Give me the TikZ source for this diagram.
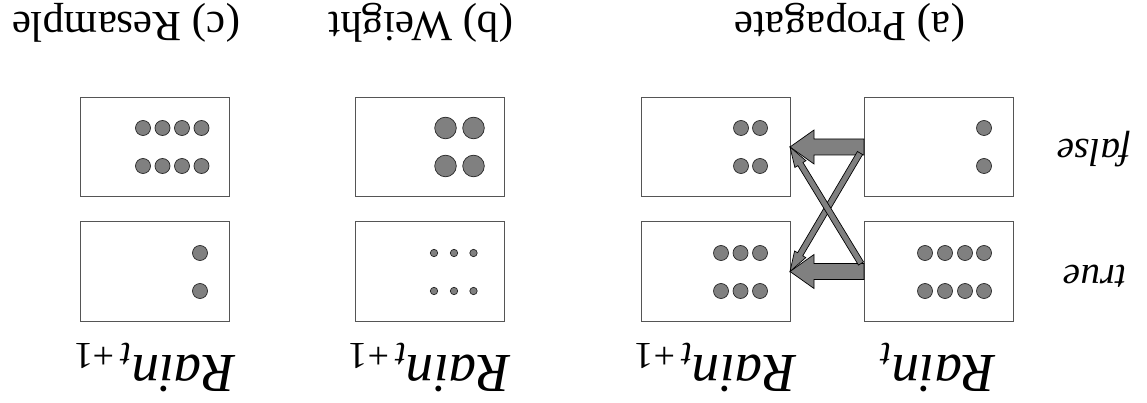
\documentclass[tikz,border=0pt]{standalone}
\usepackage{fontspec}
\setmainfont{Liberation Serif}
\usetikzlibrary{calc}

\definecolor{boxline}{RGB}{85,85,85}
\definecolor{dotfill}{RGB}{128,128,128}
\definecolor{dotline}{RGB}{40,40,40}

% outlined block arrow from #1 to #2: shaft half-width #3, head length #4, head half-width #5
\newcommand{\blockarrow}[5]{%
  \coordinate (hb) at ($(#2)!#4!(#1)$);
  \draw[arrowfill]
    ($(#1)!#3!90:(#2)$) -- ($(hb)!#3!90:(#2)$) -- ($(hb)!#5!90:(#2)$) --
    (#2) --
    ($(hb)!#5!-90:(#2)$) -- ($(hb)!#3!-90:(#2)$) -- ($(#1)!#3!-90:(#2)$) -- cycle;
}

\begin{document}
\begin{tikzpicture}[x=1pt,y=-1pt,
  panel/.style={draw=boxline, line width=1pt, minimum width=149pt, minimum height=99pt,
                inner sep=0pt, outer sep=0pt, fill=white},
  particle/.style={draw=dotline, line width=0.7pt, fill=dotfill},
  arrowfill/.style={draw=black, line width=0.7pt, fill=dotfill, line join=miter},
  heading/.style={rotate=180, anchor=base, inner sep=0pt, font=\fontsize{43}{46}\selectfont},
  varname/.style={rotate=180, anchor=base, inner sep=0pt, font=\fontsize{55}{60}\selectfont\itshape},
  state/.style={rotate=180, anchor=base, inner sep=0pt, font=\fontsize{39}{42}\selectfont\itshape}]

\useasboundingbox (0,0) rectangle (1147,403);

% panel titles
\node[heading] (ta) at (850,13) {(a) Propagate};
\node[heading] (tb) at (421,13) {(b) Weight};
\node[heading] (tc) at (126,13) {(c) Resample};

% state labels
\node[state] (sf) at (1094,140) {false};
\node[state] (st) at (1095,265) {true};

% state boxes
\node[panel] (rt) at (938.5,147) {};
\node[panel] (rb) at (938.5,271.5) {};
\node[panel] (lt) at (715.5,147) {};
\node[panel] (lb) at (715.5,271.5) {};
\node[panel] (wt) at (429.5,147) {};
\node[panel] (wb) at (429.5,271.5) {};
\node[panel] (qt) at (155,147) {};
\node[panel] (qb) at (155,271.5) {};

% variable names
\node[varname] (v1) at (938.5,355) {Rain\raisebox{-12pt}{\fontsize{38}{40}\selectfont\itshape t}};
\node[varname] (v2) at (715.5,355) {Rain\raisebox{-12pt}{\fontsize{38}{40}\selectfont\itshape t\upshape\,+1}};
\node[varname] (v3) at (429.5,355) {Rain\raisebox{-12pt}{\fontsize{38}{40}\selectfont\itshape t\upshape\,+1}};
\node[varname] (v4) at (155,355) {Rain\raisebox{-12pt}{\fontsize{38}{40}\selectfont\itshape t\upshape\,+1}};

% particles, propagate step
\foreach \y in {128,166} \draw[particle] (984,\y) circle[radius=7.5pt];
\foreach \x in {925,945,965,984} \foreach \y in {253,291} \draw[particle] (\x,\y) circle[radius=7.5pt];
\foreach \x in {741,760} \foreach \y in {128,166} \draw[particle] (\x,\y) circle[radius=7.5pt];
\foreach \x in {721,740.5,760} \foreach \y in {253,291} \draw[particle] (\x,\y) circle[radius=7.5pt];

% particles, weight step
\foreach \x in {445.5,473.5} \foreach \y in {128,166} \draw[particle] (\x,\y) circle[radius=10.8pt];
\foreach \x in {434,454,473.5} \foreach \y in {253,291} \draw[particle] (\x,\y) circle[radius=3.7pt];

% particles, resample step
\foreach \x in {143,162.5,182,201.5} \foreach \y in {128,166} \draw[particle] (\x,\y) circle[radius=7.5pt];
\foreach \y in {253,291} \draw[particle] (200,\y) circle[radius=7.5pt];

% transitions
\blockarrow{rt.west}{lt.east}{8pt}{24pt}{17pt}
\blockarrow{rb.west}{lb.east}{8pt}{24pt}{17pt}
\coordinate (c1) at ($(rt.west)+(-4,6)$);
\coordinate (c2) at ($(rb.west)+(-3,-8)$);
\blockarrow{c1}{lb.east}{3pt}{20pt}{6.5pt}
\blockarrow{c2}{lt.east}{3pt}{20pt}{6.5pt}

\end{tikzpicture}
\end{document}
